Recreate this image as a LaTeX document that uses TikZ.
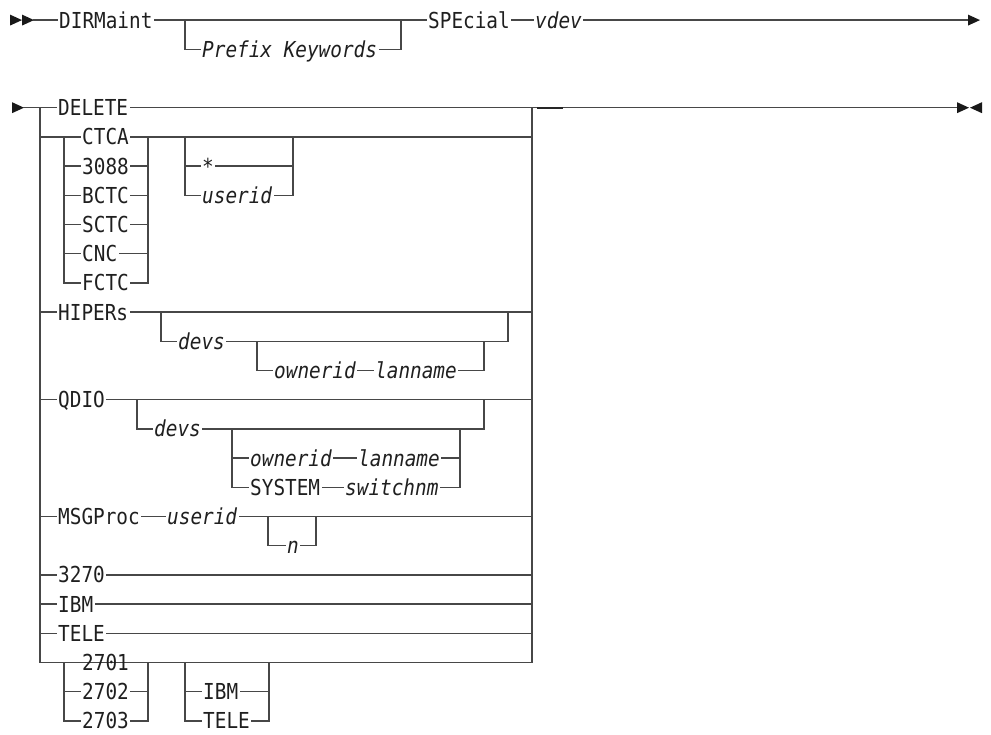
\documentclass[tikz,border=0pt]{standalone}
\usepackage{fontspec}
\setmonofont[FakeStretch=0.88]{DejaVu Sans Mono}
\usetikzlibrary{positioning}
\tikzset{
  rail/.style={draw=black!72,line width=1.3pt,line cap=rect},
  kw/.style={anchor=west,inner xsep=2pt,inner ysep=0pt,text height=16pt,text depth=0pt,
    text=black!88,font=\fontsize{22}{26}\selectfont\ttfamily},
  var/.style={kw,font=\fontsize{22}{26}\selectfont\ttfamily\itshape},
}
\newcommand{\rtip}[2]{\fill[black!90] (#1,#2) ++(0pt,5.5pt) -- ++(12pt,-5.5pt) -- ++(-12pt,-5.5pt) -- cycle;}
\newcommand{\ltip}[2]{\fill[black!90] (#1,#2) ++(0pt,5.5pt) -- ++(-12pt,-5.5pt) -- ++(12pt,-5.5pt) -- cycle;}

\begin{document}
\begin{tikzpicture}[x=1pt,y=-29.2pt]
    \useasboundingbox (0,-0.688) rectangle (991,24.449);

    % First line: DIRMaint [Prefix Keywords] SPEcial vdev
    \rtip{10}{0} \rtip{22}{0}
    \node[kw] (dirm) at (57,0) {DIRMaint};
    \node[var] (prefix) at (200,1) {Prefix Keywords};
    \node[kw] (special) at (426,0) {SPEcial};
    \node[var] (vdev) at (533,0) {vdev};
    \draw[rail] (34,0) -- (dirm.west);
    \draw[rail] (dirm.east) -- (special.west);
    \draw[rail] (185,0) |- (prefix.west);
    \draw[rail] (prefix.east) -| (401,0);
    \draw[rail] (special.east) -- (vdev.west);
    \draw[rail] (vdev.east) -- (968,0);
    \rtip{968}{0}

    % Second line: main choice stack
    \rtip{12}{3}
    \draw[rail] (24,3) -- (40,3) -- (40,22) -- (532,22) -- (532,3);
    \node[kw] (delete) at (56,3) {DELETE};
    \draw[rail] (40,3) -- (delete.west);
    \draw[rail] (delete.east) -- (957,3);
    \draw[black!85,line width=2.3pt] (537,3) -- (563,3);
    \rtip{957}{3} \ltip{982}{3}

    % CTCA group with optional * / userid
    \draw[rail] (40,4) -- (64,4) -- (64,9);
    \draw[rail] (148,4) -- (148,9);
    \foreach \name [count=\i from 4] in {CTCA,3088,BCTC,SCTC,CNC,FCTC} {
        \node[kw] (ctc\i) at (80,\i) {\name};
        \draw[rail] (64,\i) -- (ctc\i.west) (ctc\i.east) -- (148,\i);
    }
    \draw[rail] (148,4) -- (532,4);
    \node[kw] (star) at (200,5) {*};
    \node[var] (user1) at (200,6) {userid};
    \draw[rail] (185,4) |- (star.west);
    \draw[rail] (185,5) |- (user1.west);
    \draw[rail] (star.east) -| (293,4);
    \draw[rail] (user1.east) -| (293,5);

    % HIPERs
    \node[kw] (hipers) at (56,10) {HIPERs};
    \draw[rail] (40,10) -- (hipers.west) (hipers.east) -- (532,10);
    \node[var] (devs1) at (176,11) {devs};
    \node[var] (owner1) at (272,12) {ownerid};
    \node[var] (lan1) at (373,12) {lanname};
    \draw[rail] (161,10) |- (devs1.west);
    \draw[rail] (devs1.east) -| (508,10);
    \draw[rail] (257,11) |- (owner1.west);
    \draw[rail] (owner1.east) -- (lan1.west);
    \draw[rail] (lan1.east) -| (484,11);

    % QDIO
    \node[kw] (qdio) at (56,13) {QDIO};
    \draw[rail] (40,13) -- (qdio.west) (qdio.east) -- (532,13);
    \node[var] (devs2) at (152,14) {devs};
    \node[var] (owner2) at (248,15) {ownerid};
    \node[var] (lan2) at (356,15) {lanname};
    \node[kw] (system) at (248,16) {SYSTEM};
    \node[var] (switch) at (343,16) {switchnm};
    \draw[rail] (137,13) |- (devs2.west);
    \draw[rail] (devs2.east) -| (484,13);
    \draw[rail] (232,14) |- (owner2.west);
    \draw[rail] (232,15) |- (system.west);
    \draw[rail] (owner2.east) -- (lan2.west);
    \draw[rail] (system.east) -- (switch.west);
    \draw[rail] (lan2.east) -| (460,14);
    \draw[rail] (switch.east) -| (460,15);

    % MSGProc userid [n]
    \node[kw] (msgproc) at (56,17) {MSGProc};
    \node[var] (user2) at (165,17) {userid};
    \node[var] (nnum) at (285,18) {n};
    \draw[rail] (40,17) -- (msgproc.west);
    \draw[rail] (msgproc.east) -- (user2.west);
    \draw[rail] (user2.east) -- (532,17);
    \draw[rail] (268,17) |- (nnum.west);
    \draw[rail] (nnum.east) -| (316,17);

    % single keywords
    \foreach \name [count=\i from 19] in {3270,IBM,TELE} {
        \node[kw] (single\i) at (56,\i) {\name};
        \draw[rail] (40,\i) -- (single\i.west) (single\i.east) -- (532,\i);
    }

    % 2701/2702/2703 with optional IBM / TELE
    \draw[rail] (64,22) -- (64,24);
    \draw[rail] (148,22) -- (148,24);
    \foreach \name [count=\i from 22] in {2701,2702,2703} {
        \node[kw] (line\i) at (80,\i) {\name};
        \draw[rail] (64,\i) -- (line\i.west) (line\i.east) -- (148,\i);
    }
    \node[kw] (ibm2) at (201,23) {IBM};
    \node[kw] (tele2) at (201,24) {TELE};
    \draw[rail] (185,22) |- (ibm2.west);
    \draw[rail] (185,23) |- (tele2.west);
    \draw[rail] (ibm2.east) -| (269,22);
    \draw[rail] (tele2.east) -| (269,23);
\end{tikzpicture}
\end{document}
